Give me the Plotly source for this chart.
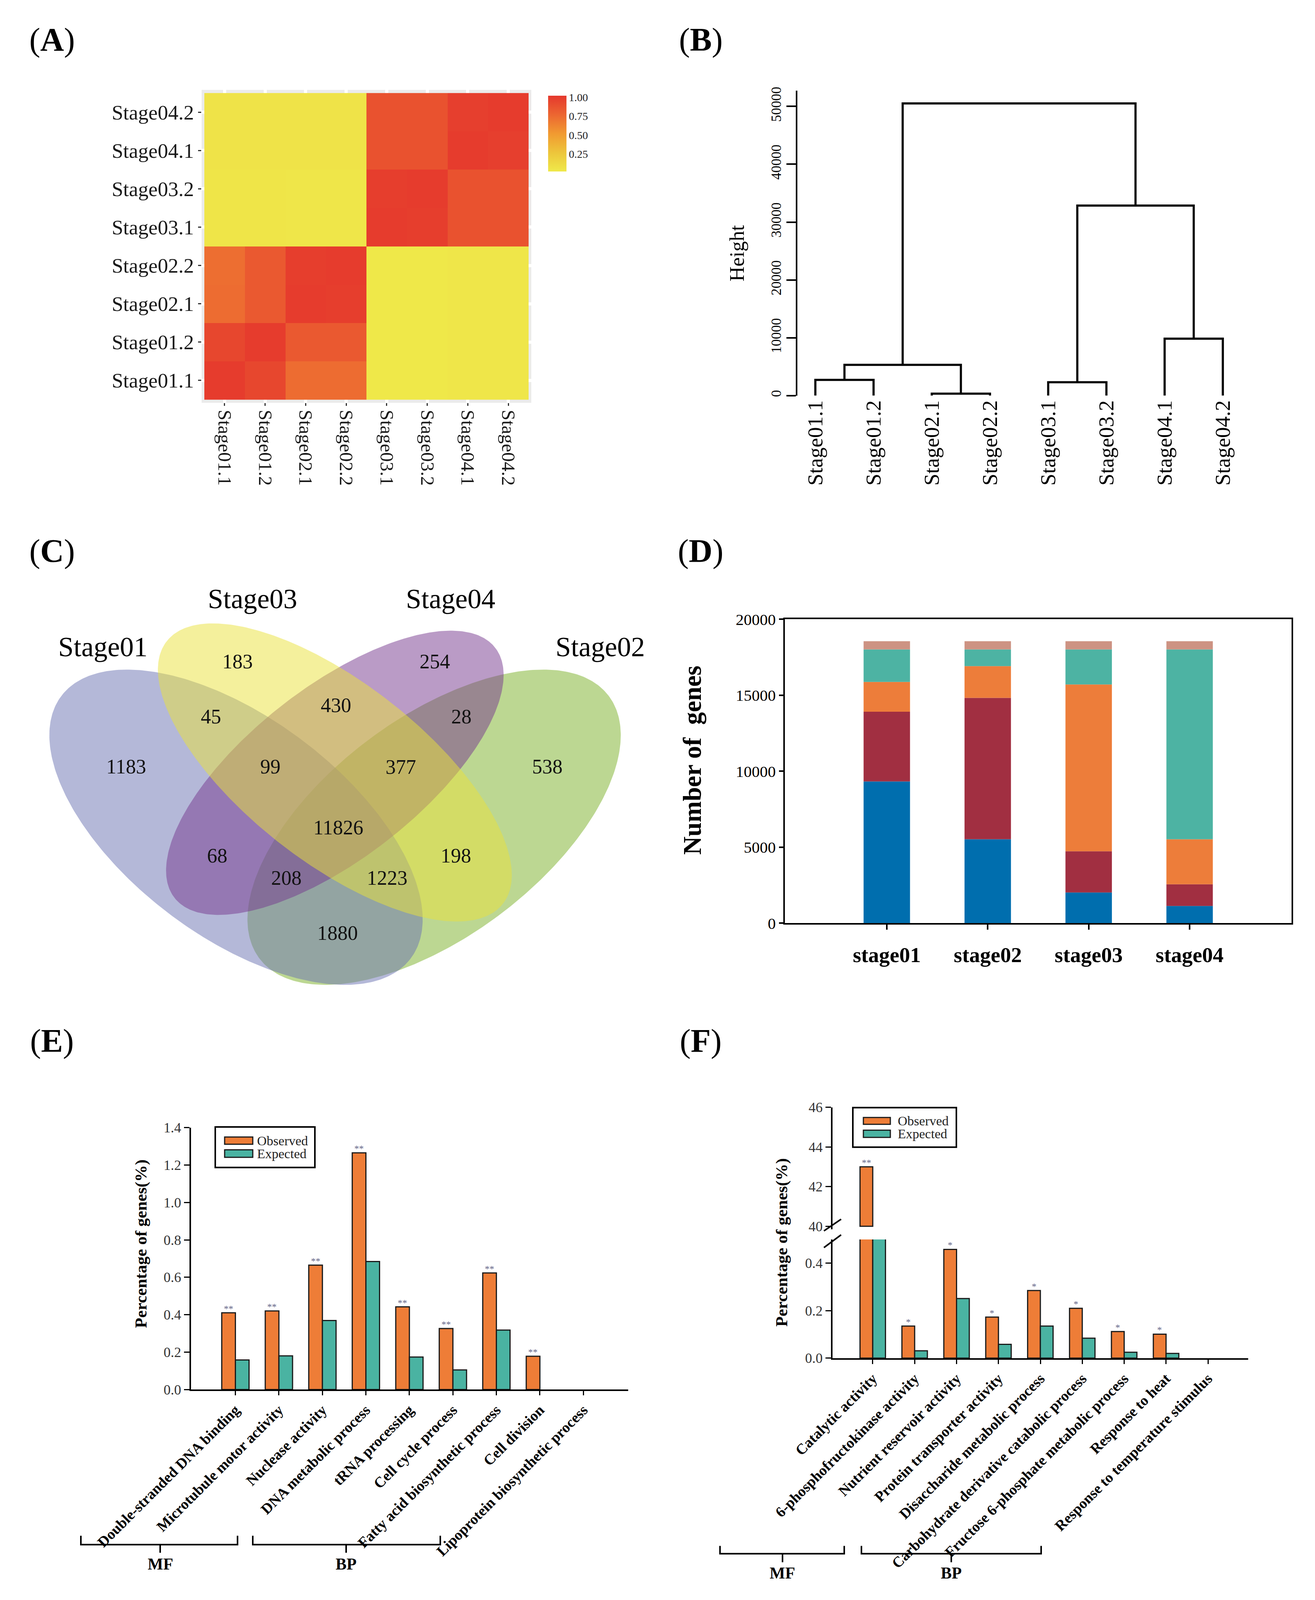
import numpy as np
import plotly.graph_objects as go

# Reference geometry is measured on a 3366 x 4849 canvas; the photographed page
# is only about 4140 px tall, so the layout is kept in paper fractions of the
# reference and rendered at a height that fits the visible page.
W, H_REF = 3366, 4849
H_OUT = 4060
S = H_OUT / H_REF
FH, FV = 0.91, 0.85          # font factors for horizontal / rotated text
SERIF = "Liberation Serif, Times New Roman, Times, serif"


def px(X):
    return X / W


def py(Y):
    return 1 - Y / H_REF


# ------------------------------------------------------------------ DATA
samples = ["Stage01.1", "Stage01.2", "Stage02.1", "Stage02.2",
           "Stage03.1", "Stage03.2", "Stage04.1", "Stage04.2"]
# correlation matrix, rows = samples (bottom->top), cols = samples (left->right)
corr = [
    [1.00, 0.94, 0.74, 0.74, 0.03, 0.03, 0.04, 0.04],
    [0.94, 1.00, 0.84, 0.84, 0.03, 0.03, 0.04, 0.04],
    [0.74, 0.84, 1.00, 0.99, 0.03, 0.03, 0.04, 0.04],
    [0.73, 0.84, 0.99, 1.00, 0.03, 0.03, 0.04, 0.04],
    [0.05, 0.05, 0.04, 0.04, 1.00, 0.99, 0.88, 0.88],
    [0.05, 0.05, 0.04, 0.04, 0.99, 1.00, 0.88, 0.88],
    [0.06, 0.06, 0.06, 0.06, 0.88, 0.88, 1.00, 0.98],
    [0.06, 0.06, 0.06, 0.06, 0.88, 0.88, 0.98, 1.00],
]
corr_ticks = [0.25, 0.50, 0.75, 1.00]

# hierarchical clustering (R hclust style merge matrix)
dend_labels = samples
dend_merge = [(-1, -2), (-3, -4), (1, 2), (-5, -6), (-7, -8), (4, 5), (3, 6)]
dend_height = [2715, 340, 5317, 2319, 9842, 32862, 50509]
height_ticks = [0, 10000, 20000, 30000, 40000, 50000]

# Venn diagram
venn_sets = ["Stage01", "Stage03", "Stage04", "Stage02"]
venn_regions = ["01", "03", "04", "02", "01&03", "03&04", "04&02", "01&03&04",
                "03&04&02", "all", "01&04", "03&02", "01&04&02", "01&03&02", "01&02"]
venn_counts = [1183, 183, 254, 538, 45, 430, 28, 99, 377, 11826, 68, 198, 208, 1223, 1880]

# stacked bars (Number of genes)
stages = ["stage01", "stage02", "stage03", "stage04"]
seg_blue = [9330, 5520, 2020, 1130]
seg_red = [4590, 9310, 2710, 1430]
seg_orange = [1960, 2090, 10980, 2960]
seg_teal = [2140, 1100, 2310, 12500]
seg_pink = [540, 540, 540, 540]
gene_ticks = [0, 5000, 10000, 15000, 20000]

# GO enrichment E
e_terms = ["Double-stranded DNA binding", "Microtubule motor activity", "Nuclease activity",
           "DNA metabolic process", "tRNA processing", "Cell cycle process",
           "Fatty acid biosynthetic process", "Cell division", "Lipoprotein biosynthetic process"]
e_obs = [0.41, 0.42, 0.665, 1.265, 0.442, 0.326, 0.623, 0.178, None]
e_exp = [0.158, 0.18, 0.369, 0.684, 0.174, 0.105, 0.318, None, None]
e_sig = ["**", "**", "**", "**", "**", "**", "**", "**", ""]
e_ticks = [0.0, 0.2, 0.4, 0.6, 0.8, 1.0, 1.2, 1.4]

# GO enrichment F (broken axis)
f_terms = ["Catalytic activity", "6-phosphofructokinase activity", "Nutrient reservoir activity",
           "Protein transporter activity", "Disaccharide metabolic process",
           "Carbohydrate derivative catabolic process", "Fructose 6-phosphate metabolic process",
           "Response to heat", "Response to temperature stimulus"]
f_obs = [43.0, 0.135, 0.458, 0.173, 0.285, 0.21, 0.112, 0.101, None]
f_exp = [36.0, 0.031, 0.251, 0.058, 0.135, 0.084, 0.025, 0.02, None]
f_sig = ["**", "*", "*", "*", "*", "*", "*", "*", ""]
f_low_ticks = [0.0, 0.2, 0.4]
f_high_ticks = [40, 42, 44, 46]
f_break = 40

# ------------------------------------------------------------------ STYLE
OBS_C = "#EE7D37"
EXP_C = "#4AB3A2"
EDGE = "#1a1a1a"
fig = go.Figure()
annotations = []
shapes = []


def text(X, Y, s, size, bold=False, angle=0, color="black", xanchor="center", yanchor="middle"):
    annotations.append(dict(x=px(X), y=py(Y), xref="paper", yref="paper", text=s,
                            showarrow=False, textangle=angle, xanchor=xanchor, yanchor=yanchor,
                            font=dict(family=SERIF, size=size, color=color,
                                      weight="bold" if bold else "normal")))


def line(X0, Y0, X1, Y1, w=4, color="black"):
    shapes.append(dict(type="line", xref="paper", yref="paper", x0=px(X0), y0=py(Y0),
                       x1=px(X1), y1=py(Y1), line=dict(color=color, width=w)))


def rect(X0, Y0, X1, Y1, fill="rgba(0,0,0,0)", lc="black", w=4, layer="above"):
    shapes.append(dict(type="rect", xref="paper", yref="paper", x0=px(X0), y0=py(Y1),
                       x1=px(X1), y1=py(Y0), fillcolor=fill, line=dict(color=lc, width=w),
                       layer=layer))


# panel letters
for lab, X, Y in [("A", 125, 112), ("B", 1786, 112), ("C", 125, 1676),
                  ("D", 1786, 1676), ("E", 125, 3173), ("F", 1786, 3173)]:
    text(X, Y, "(<b>%s</b>)" % lab, round(92 * FH))

# ------------------------------------------------------------------ A heatmap
rect(508, 265, 1352, 1222, fill="#EBEBEB", lc="rgba(0,0,0,0)", w=0, layer="below")
fig.add_trace(go.Heatmap(
    z=corr, x=list(range(len(samples))), y=list(range(len(samples))),
    zmin=0.02, zmax=1.02,
    colorscale=[[0, "#EFE94A"], [0.25, "#EDC53B"], [0.5, "#F19A31"],
                [0.75, "#EC6631"], [1, "#E5382D"]],
    xaxis="x", yaxis="y", hoverinfo="skip",
    colorbar=dict(x=px(1395), xanchor="left", y=py(399), yanchor="middle",
                  len=232 / H_REF, lenmode="fraction", thickness=47, thicknessmode="pixels",
                  tickvals=corr_ticks, ticktext=["%.2f" % v for v in corr_ticks],
                  tickfont=dict(family=SERIF, size=round(31 * FH), color="#222"),
                  outlinewidth=0, ticks="", xpad=0, ypad=0)))
ax_a = dict(tickvals=list(range(len(samples))), ticktext=samples, ticks="outside",
            tickwidth=3, tickcolor="#333", showgrid=True, gridcolor="white",
            gridwidth=8, zeroline=False, showline=False, automargin=False)

# ------------------------------------------------------------------ B dendrogram
leaf_x = list(range(1, len(dend_labels) + 1))
node_x = {}
dx, dy = [], []


def node(k):
    if k < 0:
        return leaf_x[-k - 1], 0.0
    return node_x[k], dend_height[k - 1]


for i, (l, r) in enumerate(dend_merge, start=1):
    xl, yl = node(l)
    xr, yr = node(r)
    h = dend_height[i - 1]
    dx += [xl, xl, xr, xr, None]
    dy += [yl, h, h, yr, None]
    node_x[i] = (xl + xr) / 2
fig.add_trace(go.Scatter(x=dx, y=dy, mode="lines", line=dict(color="black", width=5.5),
                         xaxis="x2", yaxis="y2", hoverinfo="skip", showlegend=False))
text(1878, 765, "Height", round(62 * FV), angle=-90)

# ------------------------------------------------------------------ C venn
# geometry in local units (x 0..1550, y 0..1550 downward)
venn_geom = {  # cx, cy, a, b, angle(deg)
    "Stage01": (549, 1002, 593, 300, 51),
    "Stage02": (1016, 1002, 593, 300, 129),
    "Stage03": (782, 829, 579, 246, 50),
    "Stage04": (782, 830, 552, 235, 130),
}
venn_fill = {"Stage01": "rgba(105,113,177,0.5)", "Stage02": "rgba(121,175,37,0.5)",
             "Stage03": "rgba(233,225,57,0.5)", "Stage04": "rgba(117,55,141,0.5)"}
t = np.linspace(0, 2 * np.pi, 361)
for name in ["Stage02", "Stage01", "Stage04", "Stage03"]:
    cx, cy, a, b, ang = venn_geom[name]
    th = np.deg2rad(ang)
    ex = cx + a * np.cos(th) * np.cos(t) - b * np.sin(th) * np.sin(t)
    ey = cy + a * np.sin(th) * np.cos(t) + b * np.cos(th) * np.sin(t)
    fig.add_trace(go.Scatter(x=ex, y=ey, mode="lines", fill="toself",
                             fillcolor=venn_fill[name], line=dict(width=0),
                             xaxis="x3", yaxis="y3", hoverinfo="skip", showlegend=False))
venn_set_pos = {"Stage01": (235, 432), "Stage03": (588, 280),
                "Stage04": (1055, 280), "Stage02": (1408, 432)}
venn_region_pos = {"01": (290, 810), "03": (553, 478), "04": (1018, 478), "02": (1283, 810),
                   "01&03": (490, 652), "03&04": (785, 617), "04&02": (1080, 652),
                   "01&03&04": (630, 810), "03&04&02": (938, 812), "all": (790, 1003),
                   "01&04": (505, 1092), "03&02": (1067, 1092), "01&04&02": (668, 1162),
                   "01&03&02": (905, 1162), "01&02": (788, 1336)}
for s in venn_sets:
    annotations.append(dict(x=venn_set_pos[s][0], y=venn_set_pos[s][1], xref="x3", yref="y3",
                            text=s, showarrow=False,
                            font=dict(family=SERIF, size=round(78 * FH), color="black")))
for reg, cnt in zip(venn_regions, venn_counts):
    annotations.append(dict(x=venn_region_pos[reg][0], y=venn_region_pos[reg][1],
                            xref="x3", yref="y3", text=str(cnt), showarrow=False,
                            font=dict(family=SERIF, size=round(57 * FH), color="#111")))

# ------------------------------------------------------------------ D stacked bars
segs = [seg_blue, seg_red, seg_orange, seg_teal, seg_pink]
seg_cols = ["#006EAE", "#A12F41", "#ED7D3A", "#4DB3A3", "#CD9383"]
base = np.zeros(len(stages))
for vals, col in zip(segs, seg_cols):
    fig.add_trace(go.Bar(x=list(range(len(stages))), y=vals, base=base.copy(), width=0.46,
                         marker=dict(color=col, line=dict(width=0)), xaxis="x4", yaxis="y4",
                         hoverinfo="skip", showlegend=False))
    base += np.array(vals)
text(1764, 2315, "Number of\u00a0 genes", round(76 * FV), bold=True, angle=-90)

# ------------------------------------------------------------------ E grouped bars
BW_E = 0.314
SIG_FONT = dict(family=SERIF, size=24, color="#5f6485")
xe = list(range(len(e_terms)))
fig.add_trace(go.Bar(x=xe, y=e_obs, width=BW_E, offset=-BW_E, marker=dict(color=OBS_C, line=dict(color=EDGE, width=3)),
                     xaxis="x5", yaxis="y5", hoverinfo="skip", showlegend=False))
fig.add_trace(go.Bar(x=xe, y=e_exp, width=BW_E, offset=0, marker=dict(color=EXP_C, line=dict(color=EDGE, width=3)),
                     xaxis="x5", yaxis="y5", hoverinfo="skip", showlegend=False))
for i, (v, s) in enumerate(zip(e_obs, e_sig)):
    if v is not None and s:
        annotations.append(dict(x=i - BW_E / 2, y=v, xref="x5", yref="y5", text=s, showarrow=False,
                                yanchor="bottom", yshift=-4, font=SIG_FONT))
text(353, 3794, "Percentage of genes(%)", round(51 * FV), bold=True, angle=-90)

# ------------------------------------------------------------------ F broken-axis bars
BW_F = 0.304
xf = list(range(len(f_terms)))
fig.add_trace(go.Bar(x=xf, y=f_obs, width=BW_F, offset=-BW_F, marker=dict(color=OBS_C, line=dict(color=EDGE, width=3)),
                     xaxis="x6", yaxis="y6", hoverinfo="skip", showlegend=False))
fig.add_trace(go.Bar(x=xf, y=f_exp, width=BW_F, offset=0, marker=dict(color=EXP_C, line=dict(color=EDGE, width=3)),
                     xaxis="x6", yaxis="y6", hoverinfo="skip", showlegend=False))
hi_obs = [v - f_break if (v is not None and v > f_break) else None for v in f_obs]
hi_exp = [v - f_break if (v is not None and v > f_break) else None for v in f_exp]
fig.add_trace(go.Bar(x=xf, y=hi_obs, base=f_break, width=BW_F, offset=-BW_F,
                     marker=dict(color=OBS_C, line=dict(color=EDGE, width=3)),
                     xaxis="x6", yaxis="y7", hoverinfo="skip", showlegend=False))
fig.add_trace(go.Bar(x=xf, y=hi_exp, base=f_break, width=BW_F, offset=0,
                     marker=dict(color=EXP_C, line=dict(color=EDGE, width=3)),
                     xaxis="x6", yaxis="y7", hoverinfo="skip", showlegend=False))
for i, (v, s) in enumerate(zip(f_obs, f_sig)):
    if v is not None and s:
        annotations.append(dict(x=i - BW_F / 2, y=v, xref="x6", yref="y7" if v > f_break else "y6",
                                text=s, showarrow=False, yanchor="bottom", yshift=-4,
                                font=SIG_FONT))
text(1993, 3790, "Percentage of genes(%)", round(51 * FV), bold=True, angle=-90)
# break marks
line(2101, 3754, 2145, 3718)
line(2101, 3805, 2145, 3766)

# manual legends
for (bx0, by0, bx1, by1, sx0, sx1, r1, r2, tx) in [
        (543, 3436, 798, 3560, 567, 639, (3467, 3489), (3506, 3529), 648),
        (2175, 3377, 2440, 3498, 2202, 2271, (3407, 3428), (3446, 3468), 2288)]:
    rect(bx0, by0, bx1, by1, w=4)
    rect(sx0, r1[0], sx1, r1[1], fill=OBS_C, lc=EDGE, w=3)
    rect(sx0, r2[0], sx1, r2[1], fill=EXP_C, lc=EDGE, w=3)
    text(tx, (r1[0] + r1[1]) / 2, "Observed", round(37 * FH), xanchor="left", color="#222")
    text(tx, (r2[0] + r2[1]) / 2, "Expected", round(37 * FH), xanchor="left", color="#222")

# MF / BP brackets


def bracket(X0, X1, Xc, Y, up, down, label, ly):
    shapes.append(dict(type="path", xref="paper", yref="paper",
                       path="M %f,%f L %f,%f L %f,%f L %f,%f" % (
                           px(X0), py(Y - up), px(X0), py(Y), px(X1), py(Y), px(X1), py(Y - up)),
                       line=dict(color="black", width=4)))
    line(Xc, Y, Xc, Y + down)
    text(Xc, ly, label, round(46 * FH), bold=True)


bracket(199, 600, 402, 4713, 27, 25, "MF", 4772)
bracket(639, 1119, 878, 4713, 27, 25, "BP", 4772)
bracket(1835, 2153, 1995, 4741, 24, 26, "MF", 4800)
bracket(2197, 2657, 2427, 4741, 24, 26, "BP", 4800)

# ------------------------------------------------------------------ LAYOUT
noax = dict(visible=False, showgrid=False, zeroline=False, automargin=False)
tick_blk = dict(family=SERIF, color="black")
ybar = dict(ticks="outside", ticklen=14, tickwidth=3, tickcolor="black", showline=True,
            linewidth=4, linecolor="black", showgrid=False, zeroline=False, automargin=False,
            tickfont=dict(family=SERIF, size=round(40 * FH), color="#333"))
xbar = dict(tickangle=-45, ticks="outside", ticklen=round(13 * S), tickwidth=3,
            tickcolor="black", showline=True, linewidth=4, linecolor="black",
            showgrid=False, zeroline=False, automargin=False,
            tickfont=dict(size=round(45 * FV), weight="bold", **tick_blk))
fig.update_layout(
    template="none",
    width=W, height=H_OUT, margin=dict(l=0, r=0, t=0, b=0, pad=0, autoexpand=False),
    paper_bgcolor="white", plot_bgcolor="rgba(0,0,0,0)", showlegend=False,
    barmode="overlay",
    xaxis=dict(domain=[px(508), px(1352)], range=[-0.568, 7.568], anchor="y", tickangle=90,
               ticklen=round(8 * S),
               tickfont=dict(family=SERIF, size=round(58 * FV), color="#1a1a1a"), **ax_a),
    yaxis=dict(domain=[py(1222), py(265)], range=[-0.585, 7.585], anchor="x", ticklen=8,
               tickfont=dict(family=SERIF, size=round(58 * FH), color="#1a1a1a"), **ax_a),
    xaxis2=dict(domain=[px(2033), px(3200)], range=[0.691, 8.523], anchor="y2",
                tickvals=leaf_x, ticktext=dend_labels, tickangle=-90, ticks="",
                showline=False, showgrid=False, zeroline=False, automargin=False,
                tickfont=dict(size=round(65 * FV), **tick_blk)),
    yaxis2=dict(domain=[py(1200), py(268)], range=[0, 52700], anchor="x2",
                tickvals=height_ticks, ticktext=[str(v) for v in height_ticks], tickangle=-90,
                ticks="outside", ticklen=24, tickwidth=4, tickcolor="black",
                showline=True, linewidth=4, linecolor="black", showgrid=False, zeroline=False,
                automargin=False, tickfont=dict(size=round(42 * FV), **tick_blk)),
    xaxis3=dict(domain=[0, 0.5], range=[0, 1550], anchor="y3", **noax),
    yaxis3=dict(domain=[py(3050), py(1550)], range=[1550, 0], anchor="x3", **noax),
    xaxis4=dict(domain=[px(2001), px(3298)], range=[-1.01, 4.01], anchor="y4",
                tickvals=list(range(len(stages))), ticktext=stages, ticks="outside",
                ticklen=round(15 * S), tickwidth=4, tickcolor="black", showline=True, mirror=True,
                linewidth=4, linecolor="black", showgrid=False, zeroline=False, automargin=False,
                tickfont=dict(size=round(60 * FH), weight="bold", **tick_blk),
                ticklabelstandoff=round(20 * S)),
    yaxis4=dict(domain=[py(2813), py(1884)], range=[0, 20000], anchor="x4",
                tickvals=gene_ticks, ticktext=[str(v) for v in gene_ticks], ticks="outside",
                ticklen=11, tickwidth=4, tickcolor="black", showline=True, mirror=True,
                linewidth=4, linecolor="black", showgrid=False, zeroline=False, automargin=False,
                tickfont=dict(size=round(45 * FH), **tick_blk)),
    xaxis5=dict(domain=[px(481), px(1600)], range=[-1.02, 9.03], anchor="y5",
                tickvals=xe, ticktext=e_terms, **xbar),
    yaxis5=dict(domain=[py(4239), py(3438)], range=[0, 1.4], anchor="x5",
                tickvals=e_ticks, ticktext=["%.1f" % v for v in e_ticks], **ybar),
    xaxis6=dict(domain=[px(2123), px(3187)], range=[-0.96, 8.96], anchor="y6",
                tickvals=xf, ticktext=f_terms, **xbar),
    yaxis6=dict(domain=[py(4143), py(3780)], range=[0, 0.5], anchor="x6",
                tickvals=f_low_ticks, ticktext=["%.1f" % v for v in f_low_ticks], **ybar),
    yaxis7=dict(domain=[py(3749), py(3376)], range=[39.85, 46], anchor="x6",
                tickvals=f_high_ticks, ticktext=[str(v) for v in f_high_ticks], **ybar),
    annotations=annotations, shapes=shapes,
)

fig.write_html("out.html")
